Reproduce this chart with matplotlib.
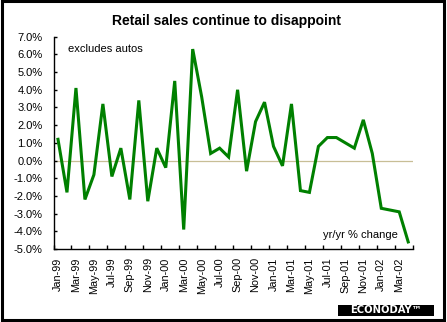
import numpy as np
import matplotlib
matplotlib.use("Agg")
import matplotlib.pyplot as plt
from matplotlib.patches import Rectangle
from matplotlib.ticker import FixedLocator, FuncFormatter

plt.rcParams["font.family"] = ["Liberation Sans", "DejaVu Sans"]

# year-over-year change in retail sales excluding autos, Jan-99 .. Apr-02
sales_yoy = [1.2, -1.8, 4.1, -2.2, -0.8, 3.2, -0.9, 0.7, -2.2, 3.4,
             -2.3, 0.7, -0.4, 4.5, -3.9, 6.3, 3.6, 0.4, 0.7, 0.2,
             4.0, -0.6, 2.2, 3.3, 0.8, -0.3, 3.2, -1.7, -1.8, 0.8,
             1.3, 1.3, 1.0, 0.7, 2.3, 0.4, -2.7, -2.8, -2.9, -4.6]

tick_labels = ["Jan-99", "Mar-99", "May-99", "Jul-99", "Sep-99", "Nov-99",
               "Jan-00", "Mar-00", "May-00", "Jul-00", "Sep-00", "Nov-00",
               "Jan-01", "Mar-01", "May-01", "Jul-01", "Sep-01", "Nov-01",
               "Jan-02", "Mar-02"]

y_ticks = [-5, -4, -3, -2, -1, 0, 1, 2, 3, 4, 5, 6, 7]

W, H = 447, 322
fig = plt.figure(figsize=(W / 100, H / 100), dpi=100)
fig.patch.set_facecolor("white")

ax = fig.add_axes([53.5 / W, 1 - 249 / H, (412.7 - 53.5) / W, (249 - 36.7) / H])
x = np.arange(len(sales_yoy))

ax.axhline(0, color="#c8be96", lw=0.9, zorder=1)
ax.plot(x, sales_yoy, color="#008000", lw=2.2, solid_joinstyle="miter", zorder=2)

ax.set_xlim(-0.5, len(sales_yoy) - 0.5)
ax.set_ylim(-5, 7)

for side in ["top", "right"]:
    ax.spines[side].set_visible(False)
for side in ["left", "bottom"]:
    ax.spines[side].set_linewidth(1.0)

ax.set_yticks(y_ticks)
ax.yaxis.set_major_formatter(FuncFormatter(lambda v, p: f"{v:.1f}%"))
ax.tick_params(axis="y", direction="in", length=2.5, width=1.0,
               pad=8, labelsize=8)

ax.set_xticks(np.arange(0, len(sales_yoy), 2))
ax.set_xticklabels(tick_labels, rotation=90, fontsize=7.8, va="top")
ax.xaxis.set_minor_locator(FixedLocator(np.arange(-0.5, len(sales_yoy), 2)))
ax.tick_params(axis="x", which="major", length=0, pad=6)
ax.tick_params(axis="x", which="minor", direction="in", length=2.9, width=1.0)

ax.text(68 / W, 1 - 49.5 / H, "excludes autos", transform=fig.transFigure,
        fontsize=8, va="center", ha="left")
ax.text(398 / W, 1 - 235.5 / H, "yr/yr % change", transform=fig.transFigure,
        fontsize=8, va="center", ha="right")

fig.text(227 / W, 1 - 21 / H, "Retail sales continue to disappoint",
         fontsize=10, fontweight="bold", ha="center", va="center")

# logo box in the lower right corner
fig.add_artist(Rectangle((338 / W, 1 - 315.5 / H), 96 / W, 11 / H,
                         transform=fig.transFigure, facecolor="black",
                         edgecolor="none"))
fig.text(386 / W, 1 - 310 / H, "ECONODAY\u2122", color="white",
         fontsize=7.2, fontweight="bold", family=["DejaVu Sans"],
         ha="center", va="center")

# frame round the whole figure
fig.add_artist(Rectangle((1.5 / W, 2 / H), 442 / W, 319.5 / H,
                         transform=fig.transFigure, fill=False,
                         edgecolor="black", lw=2.2))

fig.savefig("out.png", dpi=100)
